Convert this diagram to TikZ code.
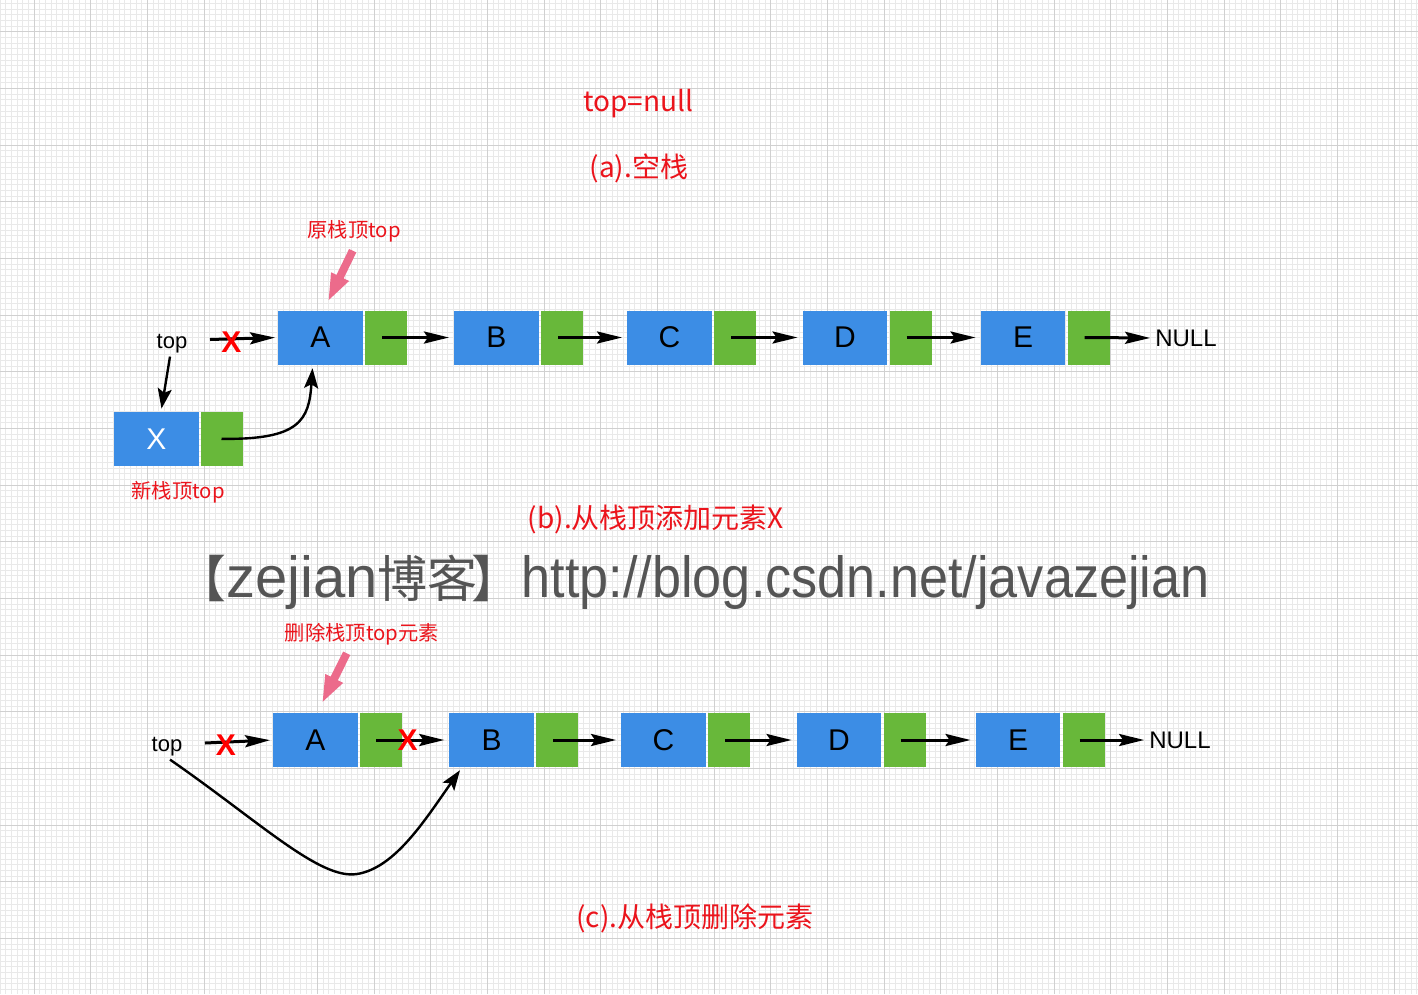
\documentclass[tikz,border=0pt]{standalone}
\usepackage{fontspec}
\setmainfont{Liberation Sans}
\newfontfamily\cjk{Noto Sans CJK SC}
\usetikzlibrary{arrows.meta,calc}
\definecolor{nodeblue}{RGB}{60,141,229}
\definecolor{nodegreen}{RGB}{104,184,58}
\definecolor{labelred}{RGB}{235,20,28}
\definecolor{pinkarrow}{RGB}{236,107,139}
\definecolor{gridminor}{RGB}{233,233,233}
\definecolor{gridmajor}{RGB}{208,208,208}
\definecolor{wmgray}{RGB}{85,85,85}
\begin{document}
\begin{tikzpicture}[x=1pt,y=-1pt,
 valbox/.style={fill=nodeblue, minimum width=84.5pt, minimum height=54pt, inner sep=0pt, font=\fontsize{30}{30}\selectfont},
 ptrbox/.style={fill=nodegreen, minimum width=42pt, minimum height=54pt, inner sep=0pt},
 link/.style={line width=3pt, -{Stealth[length=25pt,width=12pt,inset=4pt]}, shorten >=5pt},
 curvelink/.style={line width=2.4pt, -{Stealth[length=20pt,width=14pt,inset=4pt]}},
 redlabel/.style={text=labelred, inner sep=0pt, font=\cjk\fontsize{28}{30}\selectfont},
 smallred/.style={text=labelred, inner sep=0pt, font=\cjk\fontsize{20.3}{22}\selectfont},
 cross/.style={text=red, inner sep=0pt, font=\bfseries\fontsize{30}{30}\selectfont},
 toplabel/.style={inner sep=0pt, font=\fontsize{22}{22}\selectfont},
 nulllabel/.style={inner sep=0pt, font=\fontsize{24}{24}\selectfont},
]
\useasboundingbox (0,0) rectangle (1418,994);
\fill[white] (0,0) rectangle (1418,994);
% grid
\foreach \i in {0,...,250} {\draw[gridminor, line width=0.8pt] ({\i*5.6667},0) -- ({\i*5.6667},994);}
\foreach \j in {0,...,175} {\draw[gridminor, line width=0.8pt] (0,{3.37+\j*5.6667}) -- (1418,{3.37+\j*5.6667});}
\foreach \i in {0,...,26} {\draw[gridmajor, line width=0.9pt] ({-22.667+\i*56.667},0) -- ({-22.667+\i*56.667},994);}
\foreach \j in {0,...,18} {\draw[gridmajor, line width=0.9pt] (0,{-24.97+\j*56.667}) -- (1418,{-24.97+\j*56.667});}

% (a)
\node[redlabel] (topnull) at (638,104) {top=null};
\node[redlabel] (capa) at (639,168) {(a).空栈};

% (b) row
\node[valbox] (bvA) at (320.5,337.5) {A};
\node[ptrbox] (bgA) at (386.2,337.5) {};
\node[valbox] (bvB) at (496.4,337.5) {B};
\node[ptrbox] (bgB) at (562.1,337.5) {};
\node[valbox] (bvC) at (669.5,337.5) {C};
\node[ptrbox] (bgC) at (735.2,337.5) {};
\node[valbox] (bvD) at (845,337.5) {D};
\node[ptrbox] (bgD) at (910.7,337.5) {};
\node[valbox] (bvE) at (1023,337.5) {E};
\node[ptrbox] (bgE) at (1088.7,337.5) {};
\node[nulllabel] (bnull) at (1186,338) {NULL};
\node[toplabel] (btop) at (172,344) {top};
\node[valbox, text=white] (bvX) at (156.5,438.8) {X};
\node[ptrbox, minimum height=54pt] (bgX) at (221.5,438.8) {};

\coordinate (btopout) at (210,339.5);
\draw[link, shorten >=3pt] (btopout) -- (bvA.west);
\node[cross] (bx1) at (231.5,342.5) {X};
\draw[link] ([xshift=-4pt]bgA.center) -- (bvB.west);
\draw[link] ([xshift=-4pt]bgB.center) -- (bvC.west);
\draw[link] ([xshift=-4pt]bgC.center) -- (bvD.west);
\draw[link] ([xshift=-4pt]bgD.center) -- (bvE.west);
\draw[link] ([xshift=-4pt]bgE.center) -- (bnull.west);
\draw[curvelink] ($(btop.south)+(-2,3)$) -- ($(bvX.north)+(5,-3)$);
\draw[curvelink] (bgX.center) .. controls (300,440) and (309,420) .. ($(bvA.south)+(-8,3.5)$);

\coordinate (pbt) at (352.7,250.7);
\coordinate (pbh) at (328.7,300);
\coordinate (pbb) at ($(pbh)!26pt!(pbt)$);
\fill[pinkarrow] ($(pbt)!4pt!90:(pbh)$) -- ($(pbb)!4pt!90:(pbh)$) -- ($(pbb)!10pt!90:(pbh)$) -- (pbh)
  -- ($(pbb)!10pt!-90:(pbh)$) -- ($(pbb)!4pt!-90:(pbh)$) -- ($(pbt)!4pt!-90:(pbh)$) -- cycle;
\node[smallred] (oldtop) at (354,231) {原栈顶top};
\node[smallred] (newtop) at (178,492) {新栈顶top};
\node[redlabel] (capb) at (656,519) {(b).从栈顶添加元素X};

% watermark
\node[text=wmgray, anchor=base west, inner sep=0pt] (wm) at (176,597)
 {{\cjk\fontsize{50}{50}\selectfont 【}{\fontsize{58}{58}\selectfont zejian}{\cjk\fontsize{50}{50}\selectfont 博客}\hspace{-6pt}{\cjk\fontsize{50}{50}\selectfont 】}\scalebox{0.9}[1]{\fontsize{58}{58}\selectfont http://blog.csdn.net/javazejian}};

% (c) row
\node[valbox] (cvA) at (315.5,740) {A};
\node[ptrbox] (cgA) at (381.2,740) {};
\node[valbox] (cvB) at (491.7,740) {B};
\node[ptrbox] (cgB) at (557.4,740) {};
\node[valbox] (cvC) at (663.5,740) {C};
\node[ptrbox] (cgC) at (729.2,740) {};
\node[valbox] (cvD) at (839,740) {D};
\node[ptrbox] (cgD) at (904.7,740) {};
\node[valbox] (cvE) at (1018,740) {E};
\node[ptrbox] (cgE) at (1083.7,740) {};
\node[nulllabel] (cnull) at (1180,740) {NULL};
\node[toplabel] (ctop) at (167,747) {top};

\coordinate (ctopout) at (205,743);
\draw[link, shorten >=3pt] (ctopout) -- (cvA.west);
\node[cross] (cx1) at (226,745.5) {X};
\draw[link] ([xshift=-5pt]cgA.center) -- (cvB.west);
\node[cross] (cx2) at (407.5,740) {X};
\draw[link] ([xshift=-4pt]cgB.center) -- (cvC.west);
\draw[link] ([xshift=-4pt]cgC.center) -- (cvD.west);
\draw[link] ([xshift=-4pt]cgD.center) -- (cvE.west);
\draw[link] ([xshift=-4pt]cgE.center) -- (cnull.west);
\draw[curvelink] ($(ctop.south)+(3,3)$) .. controls (260,822) and (320,880) .. (357,874)
  .. controls (395,868) and (425,820) .. ($(cvB.south)+(-31.7,3)$);

\coordinate (pct) at (346.7,653.3);
\coordinate (pch) at (322.7,701.7);
\coordinate (pcb) at ($(pch)!26pt!(pct)$);
\fill[pinkarrow] ($(pct)!4pt!90:(pch)$) -- ($(pcb)!4pt!90:(pch)$) -- ($(pcb)!10pt!90:(pch)$) -- (pch)
  -- ($(pcb)!10pt!-90:(pch)$) -- ($(pcb)!4pt!-90:(pch)$) -- ($(pct)!4pt!-90:(pch)$) -- cycle;
\node[smallred] (deltop) at (362,634) {删除栈顶top元素};
\node[redlabel] (capc) at (695,918) {(c).从栈顶删除元素};
\end{tikzpicture}
\end{document}
